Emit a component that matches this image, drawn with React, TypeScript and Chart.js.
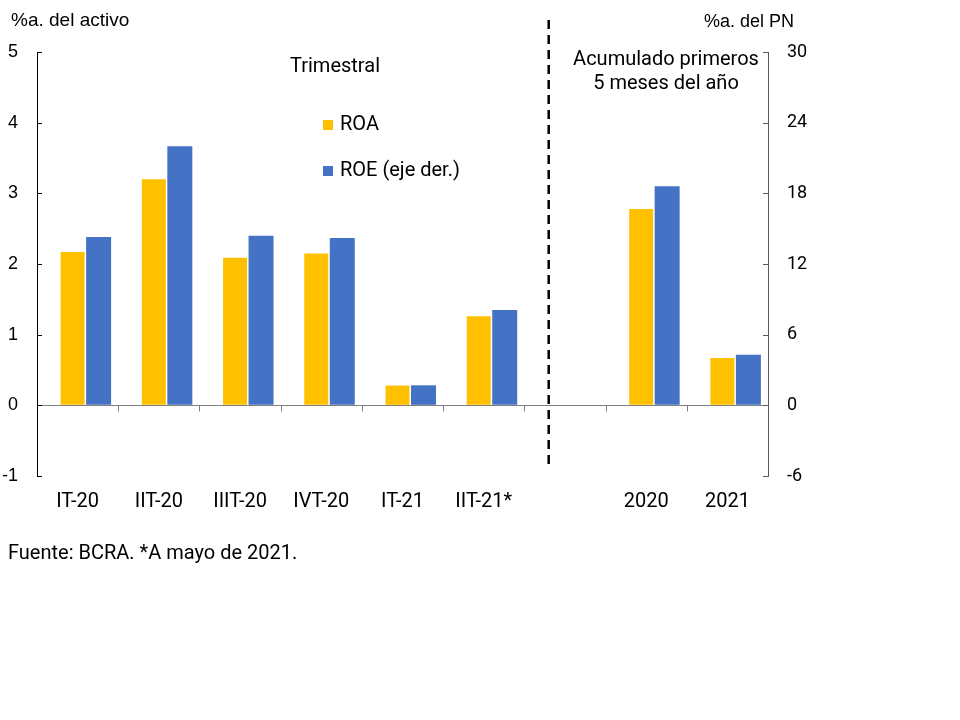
import React, { useEffect, useRef } from "react";
import { Chart, registerables } from "chart.js";

Chart.register(...registerables);

const categories = ["IT-20", "IIT-20", "IIIT-20", "IVT-20", "IT-21", "IIT-21*", "", "2020", "2021"];
const roaValues = [2.17, 3.2, 2.09, 2.15, 0.28, 1.26, null, 2.78, 0.67];
const roeValues = [14.3, 22.0, 14.4, 14.2, 1.7, 8.1, null, 18.6, 4.3];
const seriesNames = ["ROA", "ROE (eje der.)"];
const leftTitle = "%a. del activo";
const rightTitle = "%a. del PN";
const sectionLeft = "Trimestral";
const sectionRight = ["Acumulado primeros", "5 meses del año"];
const footnote = "Fuente: BCRA. *A mayo de 2021.";
const dividerAt = 5.8;

const YELLOW = "#FFC000";
const BLUE = "#4472C4";
const FONT = "Roboto, 'Noto Sans', sans-serif";
const ARIAL = "'Liberation Sans', Arial, sans-serif";

const overlay = {
  id: "overlay",
  afterDraw(chart: any) {
    const { ctx, chartArea } = chart;
    const x = chart.scales.x;
    const yl = chart.scales.y;
    const yr = chart.scales.y1;
    ctx.save();
    // zero line with category boundary ticks
    const y0 = Math.round(yl.getPixelForValue(0)) + 0.5;
    ctx.strokeStyle = "#7f7f7f";
    ctx.lineWidth = 1;
    ctx.beginPath();
    ctx.moveTo(chartArea.left, y0);
    ctx.lineTo(chartArea.right, y0);
    for (let i = 0; i < categories.length - 1; i++) {
      const px = Math.round(x.getPixelForValue(i + 0.5)) + 0.5;
      ctx.moveTo(px, y0);
      ctx.lineTo(px, y0 + 6);
    }
    ctx.stroke();
    // inward ticks on left axis
    ctx.strokeStyle = "#000";
    ctx.beginPath();
    yl.ticks.forEach((t: any) => {
      const py = Math.round(yl.getPixelForValue(t.value)) + 0.5;
      ctx.moveTo(chartArea.left, py);
      ctx.lineTo(chartArea.left + 5, py);
    });
    ctx.stroke();
    // inward ticks on right axis
    ctx.strokeStyle = "#595959";
    ctx.beginPath();
    yr.ticks.forEach((t: any) => {
      const py = Math.round(yr.getPixelForValue(t.value)) + 0.5;
      ctx.moveTo(chartArea.right, py);
      ctx.lineTo(chartArea.right - 5, py);
    });
    ctx.stroke();
    // dashed divider
    const dx = x.getPixelForValue(dividerAt);
    ctx.strokeStyle = "#000";
    ctx.lineWidth = 2.5;
    ctx.setLineDash([9, 6]);
    ctx.beginPath();
    ctx.moveTo(dx, 20);
    ctx.lineTo(dx, 470);
    ctx.stroke();
    ctx.setLineDash([]);
    // axis titles
    ctx.fillStyle = "#000";
    ctx.textBaseline = "middle";
    ctx.font = `19px ${ARIAL}`;
    ctx.textAlign = "left";
    ctx.fillText(leftTitle, 11, 21);
    ctx.font = `18px ${ARIAL}`;
    ctx.textAlign = "right";
    ctx.fillText(rightTitle, 794, 22);
    // section labels
    ctx.font = `20px ${FONT}`;
    ctx.textAlign = "center";
    ctx.fillText(sectionLeft, 335, 67);
    ctx.fillText(sectionRight[0], 666, 60);
    ctx.fillText(sectionRight[1], 666, 84);
    ctx.textAlign = "left";
    ctx.fillText(footnote, 8, 554);
    // legend
    const colors = [YELLOW, BLUE];
    const ly = [125, 171];
    seriesNames.forEach((n, i) => {
      ctx.fillStyle = colors[i];
      ctx.fillRect(323, ly[i] - 5, 10, 10);
      ctx.fillStyle = "#000";
      ctx.fillText(n, 340, ly[i]);
    });
    ctx.restore();
  },
};

export default function App() {
  const ref = useRef<HTMLCanvasElement>(null);
  useEffect(() => {
    if (!ref.current) return;
    const chart = new Chart(ref.current, {
      type: "bar",
      data: {
        labels: categories,
        datasets: [
          {
            label: seriesNames[0],
            data: roaValues,
            backgroundColor: YELLOW,
            yAxisID: "y",
            categoryPercentage: 0.246,
            barPercentage: 2.4,
          },
          {
            label: seriesNames[1],
            data: roeValues,
            backgroundColor: BLUE,
            yAxisID: "y1",
            categoryPercentage: 1.034,
            barPercentage: 0.595,
          },
        ],
      },
      options: {
        animation: false,
        responsive: false,
        devicePixelRatio: 1,
        layout: { padding: { top: 52, left: 0, right: 0, bottom: 0 } },
        plugins: { legend: { display: false }, tooltip: { enabled: false } },
        scales: {
          x: {
            type: "category",
            offset: true,
            grid: { display: false, drawTicks: false },
            border: { display: false },
            ticks: { font: { family: FONT, size: 20 }, color: "#000", padding: 14, maxRotation: 0, autoSkip: false },
            afterFit: (s: any) => { s.height = 244; },
          },
          y: {
            position: "left",
            min: -1,
            max: 5,
            ticks: { stepSize: 1, font: { family: ARIAL, size: 18 }, color: "#000", padding: 19 },
            grid: { drawOnChartArea: false, drawTicks: false },
            border: { display: true, color: "#000", width: 1 },
            afterFit: (s: any) => { s.width = 37; },
          },
          y1: {
            position: "right",
            min: -6,
            max: 30,
            ticks: { stepSize: 6, font: { family: FONT, size: 18 }, color: "#000", padding: 19 },
            grid: { drawOnChartArea: false, drawTicks: false },
            border: { display: true, color: "#595959", width: 1 },
            afterFit: (s: any) => { s.width = 192; },
          },
        },
      },
      plugins: [overlay],
    });
    return () => chart.destroy();
  }, []);
  return (
    <canvas
      ref={ref}
      width={960}
      height={720}
      style={{ position: "absolute", left: 0, top: 0, width: 960, height: 720, background: "#fff" }}
    />
  );
}
